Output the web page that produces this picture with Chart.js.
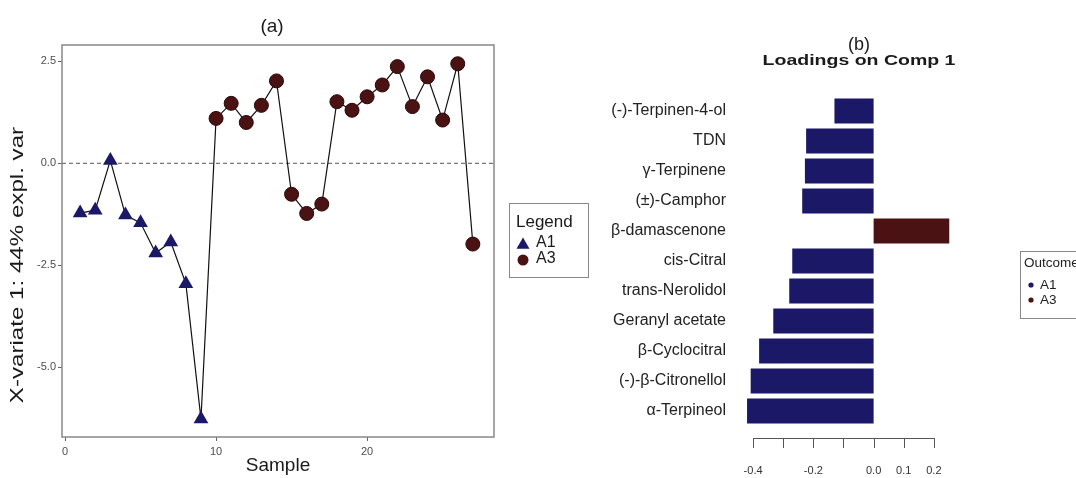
<!DOCTYPE html>
<html>
<head>
<meta charset="utf-8">
<script src="https://cdn.jsdelivr.net/npm/chart.js@4.4.1/dist/chart.umd.min.js"></script>
<style>
html, body { margin: 0; padding: 0; background: #fff; overflow: hidden; }
#wrap { position: relative; width: 1076px; height: 478px; overflow: hidden; }
#left { position: absolute; left: 0; top: 0; width: 600px; height: 478px; }
#right { position: absolute; left: 600px; top: 0; width: 476px; height: 478px; }
</style>
</head>
<body>
<div id="wrap">
  <canvas id="left" width="600" height="478"></canvas>
  <canvas id="right" width="476" height="478"></canvas>
</div>
<script>
// panel (a): sample scores
const a1Samples = [1, 2, 3, 4, 5, 6, 7, 8, 9];
const a1Scores = [-1.22, -1.15, 0.07, -1.27, -1.46, -2.2, -1.93, -2.95, -6.27];
const a3Samples = [10, 11, 12, 13, 14, 15, 16, 17, 18, 19, 20, 21, 22, 23, 24, 25, 26, 27];
const a3Scores = [1.1, 1.47, 1.0, 1.42, 2.02, -0.76, -1.23, -1.0, 1.51, 1.3, 1.63, 1.92, 2.37, 1.39, 2.12, 1.06, 2.44, -1.98];
const sampleTicks = [0, 10, 20];
const scoreTicks = [-5, -2.5, 0, 2.5];

// panel (b): loadings
const compounds = ['(-)-Terpinen-4-ol', 'TDN', 'γ-Terpinene', '(±)-Camphor', 'β-damascenone',
  'cis-Citral', 'trans-Nerolidol', 'Geranyl acetate', 'β-Cyclocitral', '(-)-β-Citronellol', 'α-Terpineol'];
const loadings = [-0.13, -0.224, -0.228, -0.237, 0.251, -0.27, -0.28, -0.333, -0.38, -0.408, -0.42];
const loadingTicks = [-0.4, -0.3, -0.2, -0.1, 0.0, 0.1, 0.2];
const loadingTickLabels = ['-0.4', '', '-0.2', '', '0.0', '0.1', '0.2'];
const outcomes = ['A1', 'A3'];

const navy = '#1c1868';
const maroon = '#4a1212';
const font = '"Liberation Sans", Arial, sans-serif';

function pts(xs, ys) { return xs.map((x, i) => ({ x: x, y: ys[i] })); }

function drawTriangle(ctx, x, y, r) {
  ctx.beginPath();
  ctx.moveTo(x, y - r);
  ctx.lineTo(x + r * Math.sin(2 * Math.PI / 3), y - r * Math.cos(2 * Math.PI / 3));
  ctx.lineTo(x + r * Math.sin(4 * Math.PI / 3), y - r * Math.cos(4 * Math.PI / 3));
  ctx.closePath();
  ctx.fill();
}

// text stretched along its own direction (the source figure is not evenly scaled)
function stretchedText(ctx, text, x, y, sx, rot) {
  ctx.save();
  ctx.translate(x, y);
  ctx.rotate(rot);
  ctx.scale(sx, 1);
  ctx.fillText(text, 0, 0);
  ctx.restore();
}

const decorLeft = {
  id: 'decorLeft',
  beforeDatasetsDraw(chart) {
    const { ctx, chartArea: a } = chart;
    const y0 = chart.scales.y.getPixelForValue(0);
    ctx.save();
    ctx.strokeStyle = '#555';
    ctx.lineWidth = 1;
    ctx.setLineDash([4, 3]);
    ctx.beginPath();
    ctx.moveTo(a.left, y0);
    ctx.lineTo(a.right, y0);
    ctx.stroke();
    ctx.restore();
  },
  afterDraw(chart) {
    const { ctx, chartArea: a } = chart;
    ctx.save();
    // panel border
    ctx.strokeStyle = '#888';
    ctx.lineWidth = 1.5;
    ctx.strokeRect(a.left, a.top, a.right - a.left, a.bottom - a.top);
    // title
    ctx.fillStyle = '#1a1a1a';
    ctx.font = '19px ' + font;
    ctx.textAlign = 'center';
    ctx.textBaseline = 'middle';
    ctx.fillText('(a)', 272, 27);
    // y axis title
    ctx.font = '19px ' + font;
    stretchedText(ctx, 'X-variate 1: 44% expl. var', 18, 265, 1.27, -Math.PI / 2);
    // legend
    ctx.strokeStyle = '#888';
    ctx.lineWidth = 1;
    ctx.strokeRect(509.5, 203.5, 79, 74);
    ctx.textAlign = 'left';
    ctx.font = '17px ' + font;
    ctx.fillText('Legend', 516, 222);
    ctx.font = '16px ' + font;
    ctx.fillText(outcomes[0], 536, 243);
    ctx.fillText(outcomes[1], 536, 259);
    ctx.fillStyle = navy;
    drawTriangle(ctx, 523, 245, 7.5);
    ctx.fillStyle = maroon;
    ctx.beginPath();
    ctx.arc(523, 260, 5.5, 0, Math.PI * 2);
    ctx.fill();
    ctx.restore();
  }
};

new Chart(document.getElementById('left'), {
  type: 'line',
  data: {
    datasets: [
      {
        label: 'all',
        data: pts(a1Samples.concat(a3Samples), a1Scores.concat(a3Scores)),
        borderColor: '#111',
        borderWidth: 1.2,
        pointRadius: 0,
        fill: false,
        order: 3
      },
      {
        label: 'A1',
        data: pts(a1Samples, a1Scores),
        showLine: false,
        pointStyle: 'triangle',
        pointRadius: 8.5,
        backgroundColor: navy,
        borderColor: navy,
        borderWidth: 0,
        order: 1
      },
      {
        label: 'A3',
        data: pts(a3Samples, a3Scores),
        showLine: false,
        pointStyle: 'circle',
        pointRadius: 7,
        backgroundColor: maroon,
        borderColor: '#2a0808',
        borderWidth: 1,
        order: 2
      }
    ]
  },
  options: {
    responsive: false,
    animation: false,
    layout: { padding: { top: 45, right: 106, left: 0, bottom: 0 } },
    plugins: { legend: { display: false }, tooltip: { enabled: false } },
    scales: {
      x: {
        type: 'linear',
        min: -0.2,
        max: 28.4,
        afterBuildTicks: s => { s.ticks = sampleTicks.map(v => ({ value: v })); },
        afterFit: s => { s.height = 41; },
        grid: { drawOnChartArea: false, drawTicks: true, tickLength: 4, color: '#666' },
        border: { display: false },
        ticks: { color: '#4d4d4d', font: { family: font, size: 11 }, padding: 4, maxRotation: 0 },
        title: { display: true, text: 'Sample', color: '#1a1a1a', font: { family: font, size: 19, lineHeight: 1 }, padding: { top: 0, bottom: 3 } }
      },
      y: {
        type: 'linear',
        min: -6.71,
        max: 2.9,
        afterBuildTicks: s => { s.ticks = scoreTicks.map(v => ({ value: v })); },
        afterFit: s => { s.width = 62; },
        grid: { drawOnChartArea: false, drawTicks: true, tickLength: 4, color: '#666' },
        border: { display: false },
        ticks: { color: '#4d4d4d', font: { family: font, size: 11 }, padding: 2, callback: v => v.toFixed(1) }
      }
    }
  },
  plugins: [decorLeft]
});

const decorRight = {
  id: 'decorRight',
  afterDraw(chart) {
    const { ctx, chartArea: a } = chart;
    const x = chart.scales.x;
    const yAxis = a.bottom + 12;
    ctx.save();
    // base-style axis line with ticks
    ctx.strokeStyle = '#555';
    ctx.lineWidth = 1;
    ctx.beginPath();
    ctx.moveTo(x.getPixelForValue(loadingTicks[0]), yAxis + 0.5);
    ctx.lineTo(x.getPixelForValue(loadingTicks[loadingTicks.length - 1]), yAxis + 0.5);
    loadingTicks.forEach(v => {
      const px = Math.round(x.getPixelForValue(v)) + 0.5;
      ctx.moveTo(px, yAxis);
      ctx.lineTo(px, yAxis + 10);
    });
    ctx.stroke();
    // titles
    ctx.fillStyle = '#1a1a1a';
    ctx.textAlign = 'center';
    ctx.textBaseline = 'middle';
    ctx.font = '18px ' + font;
    ctx.fillText('(b)', 259, 45);
    ctx.font = 'bold 15px ' + font;
    stretchedText(ctx, 'Loadings on Comp 1', 259, 61, 1.3, 0);
    // outcome legend (cut at the right edge)
    ctx.strokeStyle = '#888';
    ctx.strokeRect(420.5, 251.5, 80, 67);
    ctx.textAlign = 'left';
    ctx.fillStyle = '#222';
    ctx.font = '13.5px ' + font;
    ctx.fillText('Outcome', 424, 263);
    ctx.fillText(outcomes[0], 440, 285);
    ctx.fillText(outcomes[1], 440, 300);
    [navy, maroon].forEach((c, i) => {
      ctx.fillStyle = c;
      ctx.beginPath();
      ctx.arc(431, 285 + i * 15, 2.6, 0, Math.PI * 2);
      ctx.fill();
    });
    ctx.restore();
  }
};

new Chart(document.getElementById('right'), {
  type: 'bar',
  data: {
    labels: compounds,
    datasets: [{
      data: loadings,
      backgroundColor: loadings.map(v => v < 0 ? navy : maroon),
      borderWidth: 0,
      barPercentage: 0.83,
      categoryPercentage: 1
    }]
  },
  options: {
    indexAxis: 'y',
    responsive: false,
    animation: false,
    layout: { padding: { top: 96, right: 119, left: 0, bottom: 0 } },
    plugins: { legend: { display: false }, tooltip: { enabled: false } },
    scales: {
      x: {
        type: 'linear',
        min: -0.46,
        max: 0.2767,
        afterBuildTicks: s => { s.ticks = loadingTicks.map(v => ({ value: v })); },
        afterFit: s => { s.height = 52; },
        grid: { display: false },
        border: { display: false },
        ticks: {
          color: '#333', font: { family: font, size: 11 }, padding: 30, autoSkip: false, maxRotation: 0,
          callback: (v, i) => loadingTickLabels[i]
        }
      },
      y: {
        afterFit: s => { s.width = 135; },
        grid: { display: false },
        border: { display: false },
        ticks: { color: '#222', font: { family: font, size: 16 }, padding: 1, autoSkip: false }
      }
    }
  },
  plugins: [decorRight]
});
</script>
</body>
</html>
